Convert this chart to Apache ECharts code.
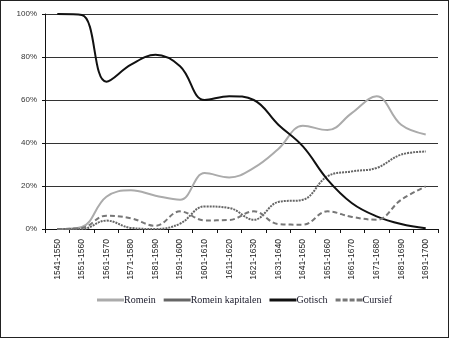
<!DOCTYPE html>
<html>
<head>
<meta charset="utf-8">
<script src="https://cdn.jsdelivr.net/npm/echarts@6/dist/echarts.min.js"></script>
<style>
  html, body { margin: 0; padding: 0; background: #fff; }
  #frame { position: absolute; left: 0; top: 0; width: 447px; height: 336px; border: 1px solid #222; }
  #chart { width: 450px; height: 339px; position: absolute; left: 0; top: 0; }
</style>
</head>
<body>
<div id="frame"></div>
<div id="chart"></div>
<script>
// Decades on the category axis
const periods = ['1541-1550','1551-1560','1561-1570','1571-1580','1581-1590','1591-1600',
  '1601-1610','1611-1620','1621-1630','1631-1640','1641-1650','1651-1660',
  '1661-1670','1671-1680','1681-1690','1691-1700'];

// Share of each typeface per decade (percent)
const romein =          [0, 1, 15, 18, 15.5, 13.6, 26, 24, 28.4, 37.2, 48, 46, 54, 61.7, 48.5, 44];
const romeinKapitalen = [0, 0, 3.9, 0.5, 0, 2.5, 10.5, 9.8, 4.3, 12.6, 13.6, 24.5, 26.8, 28.4, 34.6, 36];
const gotisch =         [100, 99.5, 68.5, 76.4, 81, 75.7, 60, 61.8, 60, 48.5, 38.4, 23, 12, 5.9, 2.3, 0.3];
const cursief =         [0, 0.5, 6.2, 5, 1.5, 8.2, 4, 4.2, 8.2, 2.3, 2, 8.2, 5.6, 4.3, 13.6, 19.8];

const yTicks = [0, 20, 40, 60, 80, 100];

const chart = echarts.init(document.getElementById('chart'), null, { renderer: 'canvas' });

const serifFont = '"Liberation Serif", "DejaVu Serif", serif';
const sansFont = '"Liberation Sans", Arial, sans-serif';

function lineSeries(name, data, color, width, type) {
  return {
    name: name,
    type: 'line',
    data: data,
    smooth: 0.4,
    symbol: 'none',
    lineStyle: { color: color, width: width, type: type },
    itemStyle: { color: color }
  };
}

chart.setOption({
  animation: false,
  grid: { left: 45, right: 12, top: 14, bottom: 110 },
  xAxis: {
    type: 'category',
    data: periods,
    boundaryGap: true,
    axisLine: { lineStyle: { color: '#111', width: 1 } },
    axisTick: { show: true, length: 4, lineStyle: { color: '#111' } },
    axisLabel: {
      rotate: 90, margin: 10, fontSize: 8.5, color: '#222', fontFamily: sansFont, interval: 0
    }
  },
  yAxis: {
    type: 'value',
    min: yTicks[0],
    max: yTicks[yTicks.length - 1],
    interval: 20,
    axisLine: { show: true, lineStyle: { color: '#111', width: 1 } },
    axisTick: { show: true, length: 3, lineStyle: { color: '#111' } },
    axisLabel: { formatter: '{value}%', fontSize: 8, color: '#333', fontFamily: sansFont, margin: 8 },
    splitLine: { show: true, lineStyle: { color: '#333', width: 1 } }
  },
  legend: {
    bottom: 29,
    left: 92,
    itemWidth: 27,
    itemHeight: 3,
    itemGap: 8,
    icon: 'path://M0,0 L27,0 L27,3 L0,3 Z',
    textStyle: { fontFamily: serifFont, fontSize: 10, color: '#1a1a2a', padding: [0, 0, 0, -5] },
    data: [
      { name: 'Romein', itemStyle: { color: '#ababab' } },
      { name: 'Romein kapitalen', itemStyle: { color: '#666' } },
      { name: 'Gotisch', itemStyle: { color: '#111' } },
      { name: 'Cursief', icon: 'path://M0,0 L5,0 L5,3 L0,3 Z M7,0 L12,0 L12,3 L7,3 Z M14,0 L19,0 L19,3 L14,3 Z M21,0 L27,0 L27,3 L21,3 Z', itemStyle: { color: '#777' } }
    ]
  },
  series: [
    lineSeries('Romein', romein, '#ababab', 2, 'solid'),
    lineSeries('Romein kapitalen', romeinKapitalen, '#666', 2, [2, 1]),
    lineSeries('Gotisch', gotisch, '#111', 2, 'solid'),
    lineSeries('Cursief', cursief, '#777', 2, [5, 3])
  ]
});
</script>
</body>
</html>
